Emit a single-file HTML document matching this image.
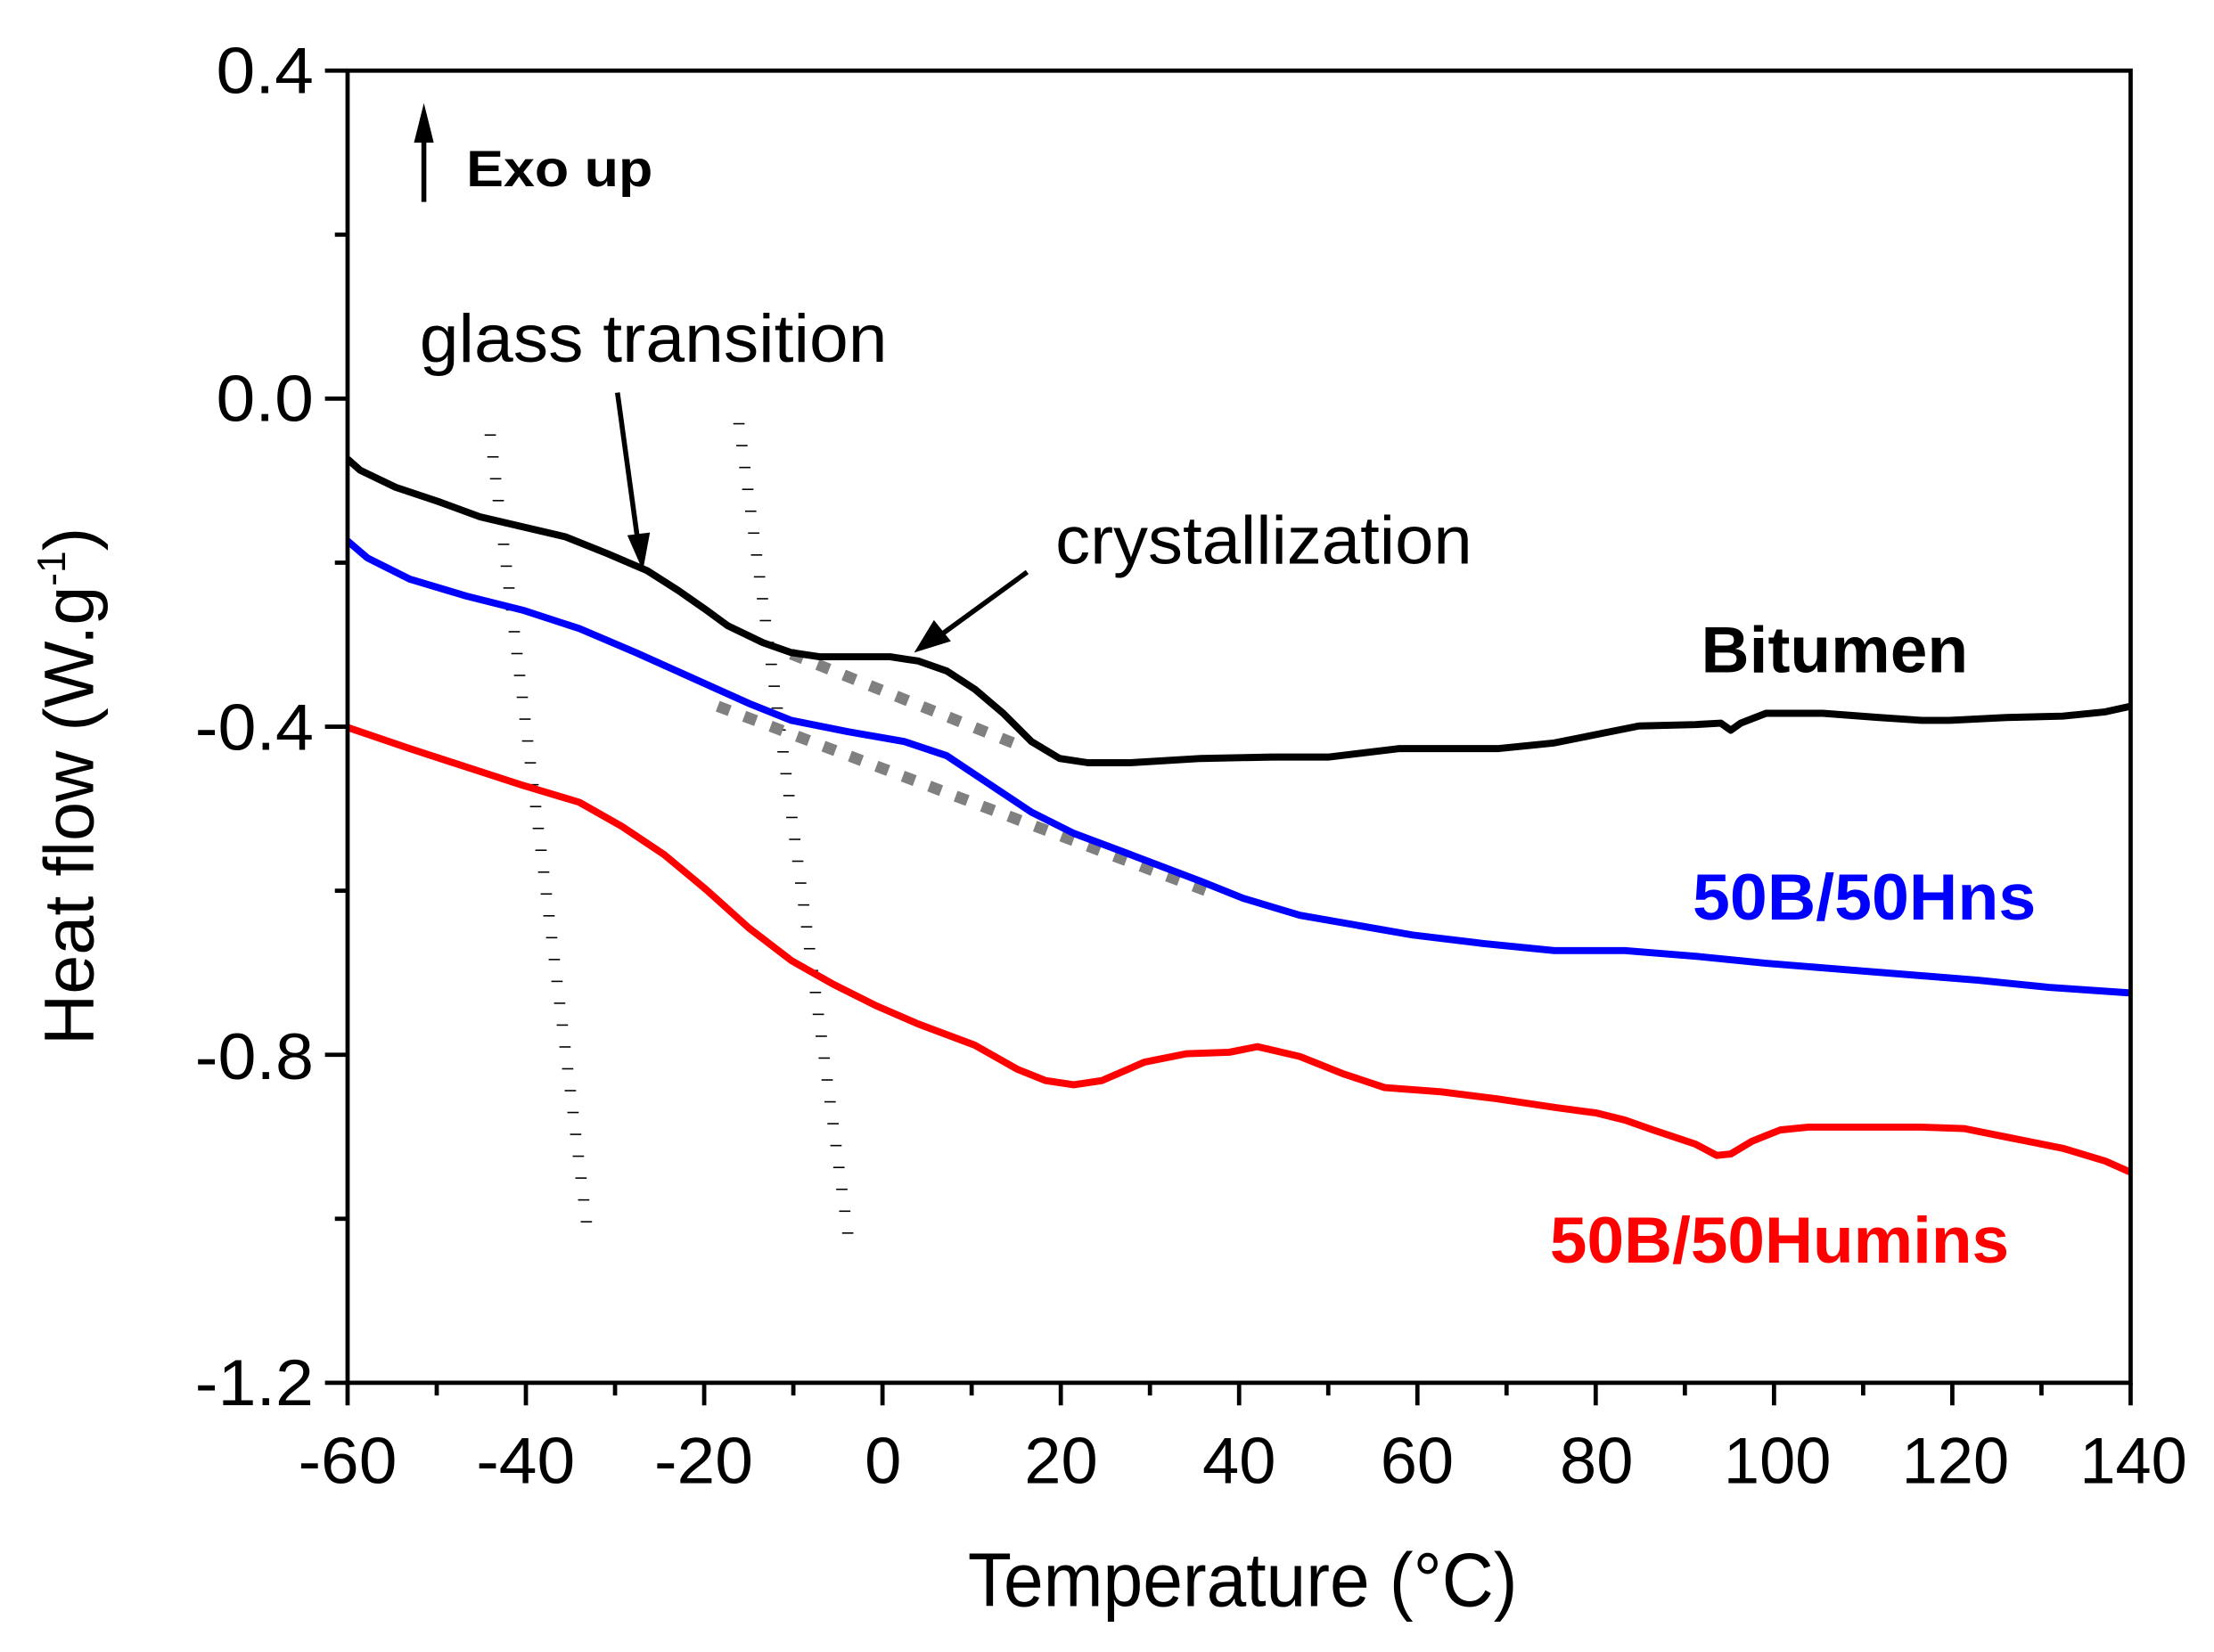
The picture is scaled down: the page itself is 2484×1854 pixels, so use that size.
<!DOCTYPE html>
<html><head><meta charset="utf-8"><style>html,body{margin:0;padding:0;background:#fff}svg{display:block}</style></head>
<body>
<svg id="s" xmlns="http://www.w3.org/2000/svg" width="2484" height="1854" viewBox="0 0 1567 1169.6" font-family="'Liberation Sans', Arial, sans-serif">
<rect width="1567" height="1170" fill="#fff"/>
<g id="hatch" stroke="#000" stroke-width="1"></g>
<g id="ticks" stroke="#000" stroke-width="3"></g>
<g stroke="#808080" stroke-width="8" stroke-dasharray="9 11" fill="none">
<line x1="560" y1="463" x2="722" y2="528"/>
<line x1="508" y1="500" x2="860" y2="633"/>
</g>
<g fill="none" stroke-width="5" stroke-linejoin="round">
<polyline stroke="#000" points="246,325 255,333 280,345 310,355 340,366 370,373 400,380 430,392 458,404 480,418 500,432 515,443 540,455 560,462 580,465 630,465 650,468 670,475 690,488 710,505 730,525 750,537 770,540 800,540 850,537 900,536 940,536 990,530 1060,530 1100,526 1130,520 1160,514 1200,513 1218,512 1225,517 1232,512 1250,505 1290,505 1330,508 1360,510 1380,510 1420,508 1460,507 1490,504 1508,500"/>
<polyline stroke="#0000ff" points="246,383 260,395 290,410 330,422 370,432 410,445 450,462 490,480 530,498 560,510 600,518 640,525 670,535 700,555 730,575 760,590 800,605 850,624 880,636 920,648 960,655 1000,662 1050,668 1100,673 1150,673 1200,677 1250,682 1300,686 1350,690 1400,694 1450,699 1508,703"/>
<polyline stroke="#ff0000" points="246,515 290,530 330,543 370,556 410,568 440,585 470,605 500,630 530,657 560,680 590,697 620,712 650,725 690,740 720,757 740,765 760,768 780,765 810,752 840,746 870,745 890,741 920,748 950,760 980,770 1020,773 1060,778 1100,784 1130,788 1150,793 1170,800 1200,810 1215,818 1225,817 1240,808 1260,800 1280,798 1360,798 1390,799 1420,805 1460,813 1490,822 1508,830"/>
</g>
<rect x="246" y="50" width="1262" height="929" fill="none" stroke="#000" stroke-width="3"/>
<line x1="300" y1="143" x2="300" y2="95" stroke="#000" stroke-width="3.5"/>
<polygon points="300,73 293,101 307,101" fill="#000"/>
<text x="330" y="132" font-size="36" font-weight="bold" textLength="132" lengthAdjust="spacingAndGlyphs">Exo up</text>
<text x="297" y="256" font-size="48" textLength="331" lengthAdjust="spacingAndGlyphs">glass transition</text>
<line x1="437" y1="278" x2="451" y2="380" stroke="#000" stroke-width="3.5"/>
<polygon points="455,404 444,379 460,377" fill="#000"/>
<text x="747" y="399" font-size="48" textLength="295" lengthAdjust="spacingAndGlyphs">crystallization</text>
<line x1="727" y1="405" x2="668" y2="448" stroke="#000" stroke-width="3.5"/>
<polygon points="647,462 661,439 673,454" fill="#000"/>
<text x="1204" y="476" font-size="46" font-weight="bold" textLength="189" lengthAdjust="spacingAndGlyphs">Bitumen</text>
<text x="1198" y="651" font-size="46" font-weight="bold" fill="#0000ff" textLength="243" lengthAdjust="spacingAndGlyphs">50B/50Hns</text>
<text x="1097" y="894" font-size="46" font-weight="bold" fill="#ff0000" textLength="325" lengthAdjust="spacingAndGlyphs">50B/50Humins</text>
<g font-size="46">
<text x="153" y="66" textLength="69" lengthAdjust="spacingAndGlyphs">0.4</text>
<text x="153" y="298" textLength="69" lengthAdjust="spacingAndGlyphs">0.0</text>
<text x="138" y="531" textLength="84" lengthAdjust="spacingAndGlyphs">-0.4</text>
<text x="138" y="764" textLength="84" lengthAdjust="spacingAndGlyphs">-0.8</text>
<text x="138" y="995" textLength="84" lengthAdjust="spacingAndGlyphs">-1.2</text>
</g>
<g font-size="46">
<text x="211" y="1050" textLength="70" lengthAdjust="spacingAndGlyphs">-60</text>
<text x="337" y="1050" textLength="70" lengthAdjust="spacingAndGlyphs">-40</text>
<text x="463" y="1050" textLength="70" lengthAdjust="spacingAndGlyphs">-20</text>
<text x="612" y="1050" textLength="26" lengthAdjust="spacingAndGlyphs">0</text>
<text x="725" y="1050" textLength="52" lengthAdjust="spacingAndGlyphs">20</text>
<text x="851" y="1050" textLength="52" lengthAdjust="spacingAndGlyphs">40</text>
<text x="977" y="1050" textLength="52" lengthAdjust="spacingAndGlyphs">60</text>
<text x="1104" y="1050" textLength="52" lengthAdjust="spacingAndGlyphs">80</text>
<text x="1220" y="1050" textLength="76" lengthAdjust="spacingAndGlyphs">100</text>
<text x="1346" y="1050" textLength="76" lengthAdjust="spacingAndGlyphs">120</text>
<text x="1472" y="1050" textLength="76" lengthAdjust="spacingAndGlyphs">140</text>
</g>
<text x="685" y="1137" font-size="54" textLength="389" lengthAdjust="spacingAndGlyphs">Temperature (°C)</text>
<text transform="translate(66,740) rotate(-90)" font-size="50">Heat flow (W.g<tspan dy="-20" font-size="28">-1</tspan><tspan dy="20">)</tspan></text>
</svg>
<script>
var ns="http://www.w3.org/2000/svg";
var t=document.getElementById('ticks');
function L(g,a,b,c,d){var l=document.createElementNS(ns,'line');l.setAttribute('x1',a);l.setAttribute('y1',b);l.setAttribute('x2',c);l.setAttribute('y2',d);g.appendChild(l);}
for(var i=0;i<=20;i++){var x=246+i*63.1;var len=(i%2==0)?16:9;L(t,x,979,x,979+len);}
for(var j=0;j<=8;j++){var y=50+j*116.125;var len=(j%2==0)?16:9;L(t,246,y,246-len,y);}
var h=document.getElementById('hatch');
function col(x0,y0,x1,y1){var n=Math.round((y1-y0)/15.5);for(var k=0;k<=n;k++){var f=k/n;var x=x0+(x1-x0)*f,y=y0+(y1-y0)*f;L(h,x-4,y,x+4,y);}}
col(347,308,415,865);col(523,300,600,873);
</script>
</body></html>
